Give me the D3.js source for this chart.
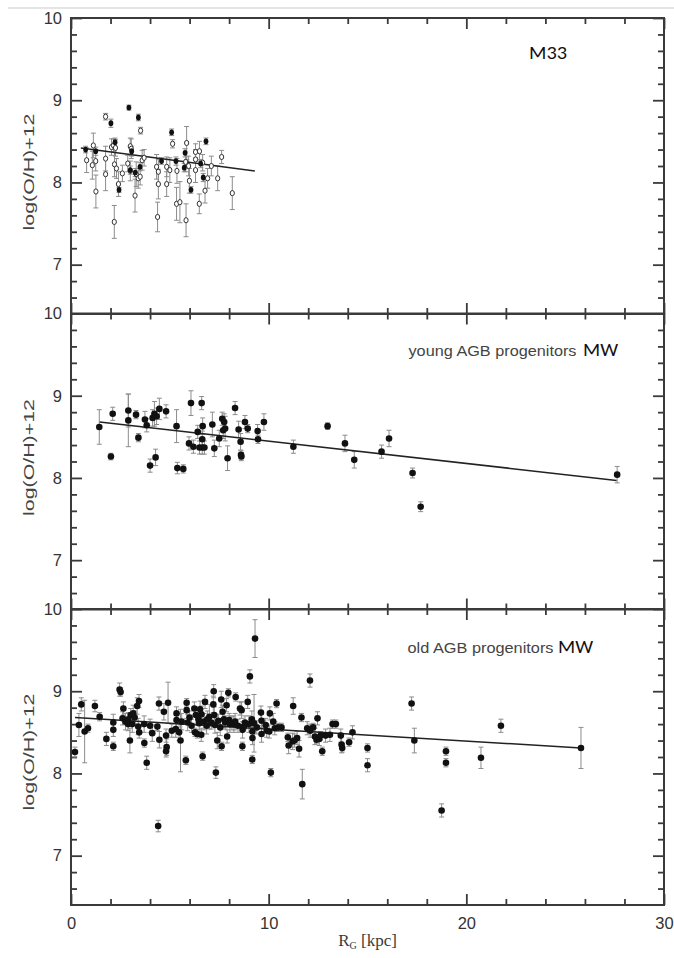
<!DOCTYPE html>
<html><head><meta charset="utf-8">
<script src="https://cdn.jsdelivr.net/npm/d3@7"></script>
<style>body{margin:0;background:#fff}</style>
</head><body><svg id="c" width="674" height="958"></svg>
<script>
// ---- data: [R_G (kpc), log(O/H)+12, error] ----
const m33Open = [
 [0.79,8.27,.15],[1.08,8.21,.17],[1.13,8.45,.15],[1.25,8.26,.12],[1.26,7.89,.2],[1.75,8.80,.04],
 [1.75,8.29,.15],[1.75,8.10,.2],[2.05,8.43,.1],[2.15,8.45,.08],[2.25,8.42,.1],[2.2,8.22,.15],
 [2.3,8.17,.12],[2.19,7.52,.2],[2.4,7.98,.15],[2.6,8.11,.1],[2.87,8.23,.1],[3.0,8.44,.1],
 [3.05,8.41,.12],[3.0,8.14,.12],[3.24,7.84,.2],[3.3,8.10,.15],[3.4,8.05,.12],[3.5,8.07,.1],
 [3.52,8.63,.04],[3.6,8.27,.12],[3.7,8.30,.1],[4.33,8.19,.15],[4.38,7.58,.18],[4.42,8.13,.15],
 [4.42,7.98,.18],[4.84,8.19,.12],[4.84,7.98,.15],[5.0,8.15,.15],[5.14,8.47,.05],[5.34,7.74,.2],
 [5.51,7.76,.25],[5.36,8.14,.15],[5.82,7.54,.2],[5.85,8.48,.2],[5.99,8.02,.15],[5.8,8.25,.12],
 [5.95,8.20,.12],[6.3,8.15,.15],[6.3,8.28,.12],[6.3,8.37,.1],[6.49,7.74,.12],[6.5,8.38,.12],
 [6.66,8.24,.1],[6.78,7.90,.15],[6.91,8.05,.12],[7.1,8.20,.12],[7.42,8.05,.15],[7.62,8.31,.08],
 [8.16,7.87,.2]
];
const m33Filled = [
 [0.74,8.40,.04],[1.25,8.38,.05],[2.02,8.72,.05],[2.23,8.49,.05],[2.43,7.91,.03],[2.93,8.91,.03],
 [3.07,8.38,.06],[3.41,8.79,.04],[3.0,8.15,.05],[3.25,8.12,.05],[3.49,8.19,.05],[4.58,8.26,.04],
 [5.09,8.61,.04],[5.31,8.26,.05],[5.77,8.36,.05],[5.73,8.18,.05],[6.07,7.91,.04],[6.56,8.23,.05],
 [6.83,8.50,.04],[6.69,8.06,.05]
];
const youngMW = [
 [1.43,8.62,.21],[2.02,8.26,.04],[2.11,8.78,.08],[2.90,8.82,.2],[2.90,8.70,.32],[3.29,8.77,.05],
 [3.41,8.49,.05],[3.74,8.71,.1],[3.83,8.64,.08],[4.00,8.15,.08],[4.13,8.73,.1],[4.22,8.78,.15],
 [4.33,8.75,.1],[4.47,8.84,.13],[4.28,8.25,.1],[4.81,8.81,.08],[5.34,8.63,.2],[5.38,8.12,.07],
 [5.68,8.11,.05],[5.97,8.42,.08],[6.07,8.91,.15],[6.19,8.38,.08],[6.41,8.56,.08],[6.50,8.37,.08],
 [6.64,8.37,.08],[6.75,8.37,.08],[6.61,8.91,.08],[6.66,8.63,.1],[6.64,8.47,.1],[7.15,8.65,.15],
 [7.25,8.36,.1],[7.50,8.48,.1],[7.65,8.72,.08],[7.75,8.68,.1],[7.80,8.60,.15],[7.70,8.58,.1],
 [7.92,8.24,.15],[8.30,8.85,.08],[8.48,8.59,.1],[8.58,8.44,.1],[8.60,8.28,.05],[8.62,8.26,.05],
 [8.80,8.68,.08],[8.94,8.60,.05],[9.44,8.57,.08],[9.46,8.47,.05],[9.76,8.68,.1],[11.25,8.38,.08],
 [12.98,8.63,.04],[13.86,8.42,.1],[14.33,8.22,.1],[15.71,8.32,.08],[16.09,8.48,.1],[17.28,8.06,.06],
 [17.69,7.65,.06],[27.63,8.04,.1]
];
const oldMW = [
 [0.20,8.26,.06],[0.40,8.59,.14],[0.52,8.84,.08],[0.69,8.51,.38],[0.86,8.55,.05],[1.21,8.82,.07],
 [1.45,8.69,.05],[1.79,8.42,.08],[2.14,8.62,.1],[2.14,8.53,.08],[2.14,8.33,.05],[2.46,9.02,.08],
 [2.51,8.99,.05],[2.65,8.79,.08],[2.61,8.67,.08],[2.76,8.63,.1],[2.89,8.60,.08],[2.98,8.40,.15],
 [3.02,8.71,.08],[3.15,8.73,.1],[3.22,8.68,.08],[3.35,8.82,.1],[3.44,8.88,.08],[3.40,8.57,.1],
 [3.45,8.50,.07],[3.71,8.37,.05],[3.83,8.13,.08],[4.11,8.49,.1],[4.37,8.57,.05],[4.45,8.85,.08],
 [4.47,8.41,.1],[4.70,8.75,.1],[4.81,8.46,.08],[4.81,8.27,.07],[4.84,8.32,.1],[4.91,8.86,.25],
 [5.34,8.73,.08],[5.34,8.65,.1],[5.30,8.54,.1],[5.47,8.50,.1],[5.54,8.40,.38],[5.81,8.16,.05],
 [5.85,8.86,.05],[5.85,8.77,.1],[5.90,8.62,.1],[6.10,8.58,.08],[6.24,8.79,.08],[6.32,8.71,.1],
 [6.27,8.50,.05],[6.39,8.48,.05],[6.53,8.78,.1],[6.49,8.61,.08],[6.59,8.47,.08],[6.66,8.21,.05],
 [6.78,8.87,.08],[6.73,8.63,.1],[6.86,8.58,.1],[7.00,8.69,.15],[7.20,8.84,.1],[7.22,9.00,.08],
 [7.25,8.71,.1],[7.28,8.59,.1],[7.33,8.01,.07],[7.40,8.40,.1],[7.45,8.64,.08],[7.62,8.33,.05],
 [7.67,8.75,.08],[7.74,8.66,.1],[7.87,8.83,.08],[7.90,8.45,.08],[7.96,8.98,.05],[8.04,8.60,.1],
 [8.14,8.61,.08],[8.24,8.60,.1],[8.33,8.93,.05],[8.55,8.79,.08],[8.63,8.77,.1],[8.68,8.53,.1],
 [8.74,8.57,.05],[8.67,8.33,.05],[8.94,8.87,.08],[9.05,9.18,.08],[9.31,9.64,.23],[9.15,8.66,.1],
 [9.18,8.51,.1],[9.18,8.43,.08],[9.17,8.17,.05],[9.26,8.61,.35],[9.61,8.74,.08],[9.64,8.64,.08],
 [9.64,8.48,.1],[9.85,8.59,.08],[10.06,8.73,.08],[10.03,8.51,.08],[10.11,8.01,.05],[10.23,8.63,.1],
 [10.31,8.55,.08],[10.40,8.85,.05],[10.48,8.56,.05],[10.65,8.56,.05],[10.97,8.44,.05],[11.01,8.34,.1],
 [11.24,8.82,.1],[11.21,8.39,.1],[11.44,8.43,.08],[11.54,8.30,.1],[11.66,8.68,.05],[11.70,7.87,.18],
 [11.95,8.55,.08],[12.09,9.13,.08],[12.25,8.56,.05],[12.34,8.45,.1],[12.42,8.41,.05],[12.47,8.67,.08],
 [12.56,8.42,.08],[12.63,8.46,.05],[12.71,8.27,.05],[12.88,8.46,.08],[13.23,8.60,.05],[13.40,8.60,.05],
 [13.65,8.46,.08],[13.69,8.35,.1],[13.72,8.31,.05],[14.07,8.38,.05],[14.24,8.50,.08],[15.00,8.31,.05],
 [15.00,8.10,.08],[4.41,7.36,.07],[17.23,8.85,.08],[17.37,8.40,.15],[18.75,7.55,.08],[18.97,8.27,.05],
 [18.97,8.13,.05],[20.74,8.19,.13],[21.75,8.58,.08],[25.80,8.31,.25],
 [6.0,8.68,.08],[6.45,8.66,.08],[6.9,8.66,.1],[7.1,8.62,.08],[7.55,8.56,.1],[7.8,8.62,.08],
 [8.0,8.65,.08],[8.3,8.63,.1],[8.45,8.58,.08],[8.8,8.62,.08],[9.0,8.60,.1],[9.4,8.56,.08],
 [9.9,8.52,.08],[5.6,8.63,.1],[5.1,8.52,.08],[4.0,8.58,.08],[3.7,8.60,.1],[2.9,8.66,.08],
 [3.1,8.60,.1],[12.1,8.52,.08],[13.1,8.47,.08],[11.3,8.40,.08],[6.6,8.72,.1],[7.6,8.90,.1]
];
// regression lines
const m33FitR = [0.5, 9.3],   m33FitOH = [8.42, 8.14];
const youngFitR = [1.45, 27.6], youngFitOH = [8.68, 7.97];
const oldFitR = [0.2, 25.8],  oldFitOH = [8.68, 8.31];
// ticks
const xMajor = [0, 10, 20, 30];
const xMinor = [2,4,6,8,12,14,16,18,22,24,26,28];
const yMajor = [7, 8, 9, 10];
const yMinor = [6.6,6.8,7.2,7.4,7.6,7.8,8.2,8.4,8.6,8.8,9.2,9.4,9.6,9.8];
const yTitle = "log(O/H)+12";

// ---- layout ----
const svg = d3.select("#c");
const L = 71, R = 664, H = 296;
const tops = [18, 313.5, 609];
const x = d3.scaleLinear().domain([0, 30]).range([L, R]);
const axisCol = "#3a3a3a", txtCol = "#333", errCol = "#8c8c8c";
const sans = "'Liberation Sans', Arial, Helvetica, sans-serif";

// screenshot separator line
svg.append("line").attr("x1", 8).attr("x2", 674).attr("y1", 8).attr("y2", 8)
  .attr("stroke", "#dcdcdc").attr("stroke-width", 1.5);

const panels = [
  {open: m33Open, filled: m33Filled, fitR: m33FitR, fitOH: m33FitOH, titleDy: 6},
  {filled: youngMW, fitR: youngFitR, fitOH: youngFitOH, titleDy: -4},
  {filled: oldMW, fitR: oldFitR, fitOH: oldFitOH, titleDy: -5, xlabels: true}
];

function styleAxis(g) {
  g.select(".domain").remove();
  g.selectAll(".tick line").attr("stroke", axisCol).attr("stroke-width", 1.8);
  g.selectAll(".tick text").attr("fill", txtCol).attr("font-family", sans).attr("font-size", 16.5);
}

panels.forEach((p, i) => {
  const top = tops[i], bot = top + H;
  const y = d3.scaleLinear().domain([6.4, 10]).range([bot, top]);
  const g = svg.append("g");

  // inward ticks on all four sides, drawn by d3 axes
  const addAxis = (gen, tr) => g.append("g").attr("transform", tr).call(gen).call(styleAxis);
  addAxis(d3.axisLeft(y).tickValues(yMajor).tickSize(-11).tickSizeOuter(0).tickPadding(9).tickFormat(d3.format("d")), `translate(${L},0)`);
  addAxis(d3.axisLeft(y).tickValues(yMinor).tickSize(-6).tickSizeOuter(0).tickFormat(""), `translate(${L},0)`);
  addAxis(d3.axisRight(y).tickValues(yMajor).tickSize(-11).tickSizeOuter(0).tickFormat(""), `translate(${R},0)`);
  addAxis(d3.axisRight(y).tickValues(yMinor).tickSize(-6).tickSizeOuter(0).tickFormat(""), `translate(${R},0)`);
  addAxis(d3.axisTop(x).tickValues(xMajor).tickSize(-11).tickSizeOuter(0).tickFormat(""), `translate(0,${top})`);
  addAxis(d3.axisTop(x).tickValues(xMinor).tickSize(-6).tickSizeOuter(0).tickFormat(""), `translate(0,${top})`);
  addAxis(d3.axisBottom(x).tickValues(xMajor).tickSize(-11).tickSizeOuter(0).tickPadding(12)
      .tickFormat(p.xlabels ? d3.format("d") : ""), `translate(0,${bot})`);
  addAxis(d3.axisBottom(x).tickValues(xMinor).tickSize(-6).tickSizeOuter(0).tickFormat(""), `translate(0,${bot})`);

  // frame
  g.append("rect").attr("x", L).attr("y", top).attr("width", R - L).attr("height", H)
    .attr("fill", "none").attr("stroke", axisCol).attr("stroke-width", 2);

  // y title
  g.append("text")
    .attr("transform", `translate(28.5,${top + H / 2 + p.titleDy}) rotate(-90)`)
    .attr("text-anchor", "middle").attr("dominant-baseline", "central")
    .attr("font-family", sans).attr("font-size", 14.5).attr("fill", "#444")
    .attr("textLength", 117).attr("lengthAdjust", "spacingAndGlyphs")
    .text(yTitle);

  const all = (p.open || []).concat(p.filled);
  // error bars
  const eb = g.append("g").attr("stroke", errCol).attr("stroke-width", 1).attr("fill", "none");
  all.forEach(d => {
    const xx = x(d[0]), y1 = y(d[1] - d[2]), y2 = y(d[1] + d[2]);
    eb.append("line").attr("x1", xx).attr("x2", xx).attr("y1", y1).attr("y2", y2);
    eb.append("line").attr("x1", xx - 2.5).attr("x2", xx + 2.5).attr("y1", y1).attr("y2", y1);
    eb.append("line").attr("x1", xx - 2.5).attr("x2", xx + 2.5).attr("y1", y2).attr("y2", y2);
  });

  // fit line
  const line = d3.line().x(d => x(d[0])).y(d => y(d[1]));
  g.append("path").datum(p.fitR.map((r, k) => [r, p.fitOH[k]]))
    .attr("d", line).attr("stroke", "#222").attr("stroke-width", 1.5).attr("fill", "none");

  if (p.open) {
    g.append("g").selectAll("ellipse").data(p.open).join("ellipse")
      .attr("cx", d => x(d[0])).attr("cy", d => y(d[1])).attr("rx", 2.1).attr("ry", 2.6)
      .attr("fill", "#fff").attr("stroke", "#333").attr("stroke-width", 1);
    g.append("g").selectAll("ellipse").data(p.filled).join("ellipse")
      .attr("cx", d => x(d[0])).attr("cy", d => y(d[1])).attr("rx", 2.4).attr("ry", 2.9)
      .attr("fill", "#111");
  } else {
    g.append("g").selectAll("circle").data(p.filled).join("circle")
      .attr("cx", d => x(d[0])).attr("cy", d => y(d[1])).attr("r", 3.3)
      .attr("fill", "#111");
  }
});

// panel labels
const calib = "Carlito, 'Open Sans', 'Noto Sans', sans-serif";
svg.append("text").attr("x", 529).attr("y", 58.5).attr("font-family", calib)
  .attr("font-size", 18).attr("fill", "#111").attr("textLength", 38).attr("lengthAdjust", "spacingAndGlyphs").text("M33");

function mwLabel(x0, base, w1, txt, x2) {
  svg.append("text").attr("x", x0).attr("y", base).attr("font-family", sans)
    .attr("font-size", 15.5).attr("fill", "#444").attr("textLength", w1).attr("lengthAdjust", "spacingAndGlyphs").text(txt);
  svg.append("text").attr("x", x2).attr("y", base).attr("font-family", calib)
    .attr("font-size", 17.5).attr("fill", "#111").attr("textLength", 35).attr("lengthAdjust", "spacingAndGlyphs").text("MW");
}
mwLabel(408.5, 355.5, 168, "young AGB progenitors", 583);
mwLabel(407.5, 652.5, 146, "old AGB progenitors", 558);

// x title
const xt = svg.append("text").attr("x", 367.5).attr("y", 946).attr("text-anchor", "middle")
  .attr("font-family", "'Liberation Serif', 'DejaVu Serif', serif").attr("font-size", 17).attr("fill", "#3a3a3a");
xt.append("tspan").text("R");
xt.append("tspan").attr("font-size", 10).attr("dy", 3).text("G");
xt.append("tspan").attr("dy", -3).text(" [kpc]");
</script>
</body></html>
